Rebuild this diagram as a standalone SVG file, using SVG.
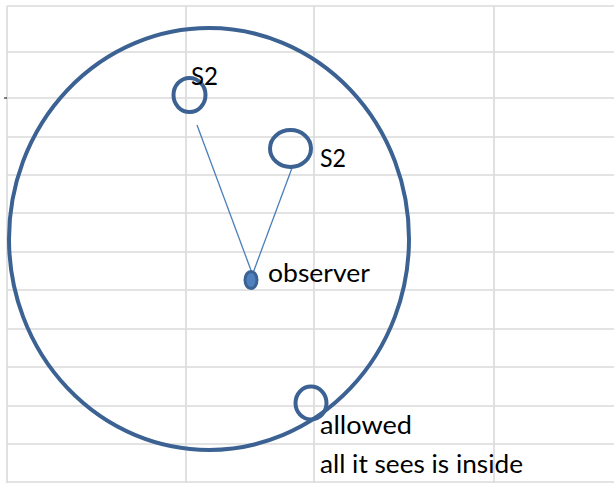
<svg xmlns="http://www.w3.org/2000/svg" width="614" height="483" viewBox="0 0 614 483">
  <style>
    .grid { stroke: #dadada; stroke-width: 1.6; fill: none; }
    .shape { fill: none; stroke: #3b6293; stroke-width: 4; }
    .conn { stroke: #4a7ebb; stroke-width: 1.3; fill: none; }
    .lbl { font-family: Lato, "Open Sans", "Liberation Sans", sans-serif; font-size: 25px; fill: #000; }
  </style>
  <rect x="0" y="0" width="614" height="483" fill="#ffffff"/>
  <g id="grid" class="grid">
    <line x1="7" y1="6" x2="7" y2="483"/>
    <line x1="186" y1="6" x2="186" y2="483"/>
    <line x1="314" y1="6" x2="314" y2="483"/>
    <line x1="494" y1="6" x2="494" y2="483"/>
    <line x1="7" y1="6" x2="614" y2="6"/>
    <line x1="7" y1="52" x2="614" y2="52"/>
    <line x1="7" y1="98" x2="614" y2="98"/>
    <line x1="7" y1="137" x2="614" y2="137"/>
    <line x1="7" y1="175" x2="614" y2="175"/>
    <line x1="7" y1="213" x2="614" y2="213"/>
    <line x1="7" y1="252" x2="614" y2="252"/>
    <line x1="7" y1="290" x2="614" y2="290"/>
    <line x1="7" y1="329" x2="614" y2="329"/>
    <line x1="7" y1="367" x2="614" y2="367"/>
    <line x1="7" y1="406" x2="614" y2="406"/>
    <line x1="7" y1="444" x2="614" y2="444"/>
    <line x1="7" y1="482" x2="614" y2="482"/>
  </g>
  <line x1="4" y1="98" x2="7" y2="98" stroke="#000" stroke-width="1"/>
  <g id="connectors">
    <line class="conn" x1="197" y1="125" x2="252" y2="273"/>
    <line class="conn" x1="292" y1="168" x2="253" y2="273"/>
  </g>
  <g id="boundary">
    <ellipse class="shape" cx="209" cy="239" rx="200" ry="211"/>
  </g>
  <g id="s2-top">
    <ellipse class="shape" cx="189.5" cy="95" rx="16" ry="17"/>
    <text class="lbl" x="191" y="85" textLength="27" lengthAdjust="spacingAndGlyphs">S2</text>
  </g>
  <g id="s2-right">
    <ellipse class="shape" cx="290.5" cy="148.5" rx="20.5" ry="18.5"/>
    <text class="lbl" x="320" y="167" textLength="26" lengthAdjust="spacingAndGlyphs">S2</text>
  </g>
  <g id="observer">
    <ellipse cx="251" cy="280" rx="6" ry="8.5" fill="#4f81bd" stroke="#3b6293" stroke-width="3"/>
    <text class="lbl" x="268" y="282" textLength="102" lengthAdjust="spacingAndGlyphs">observer</text>
  </g>
  <g id="allowed">
    <ellipse class="shape" cx="311" cy="403" rx="15.5" ry="16.5"/>
    <text class="lbl" x="320" y="434" textLength="92" lengthAdjust="spacingAndGlyphs">allowed</text>
  </g>
  <g id="note">
    <text class="lbl" x="320" y="473" textLength="203" lengthAdjust="spacingAndGlyphs">all it sees is inside</text>
  </g>
</svg>
